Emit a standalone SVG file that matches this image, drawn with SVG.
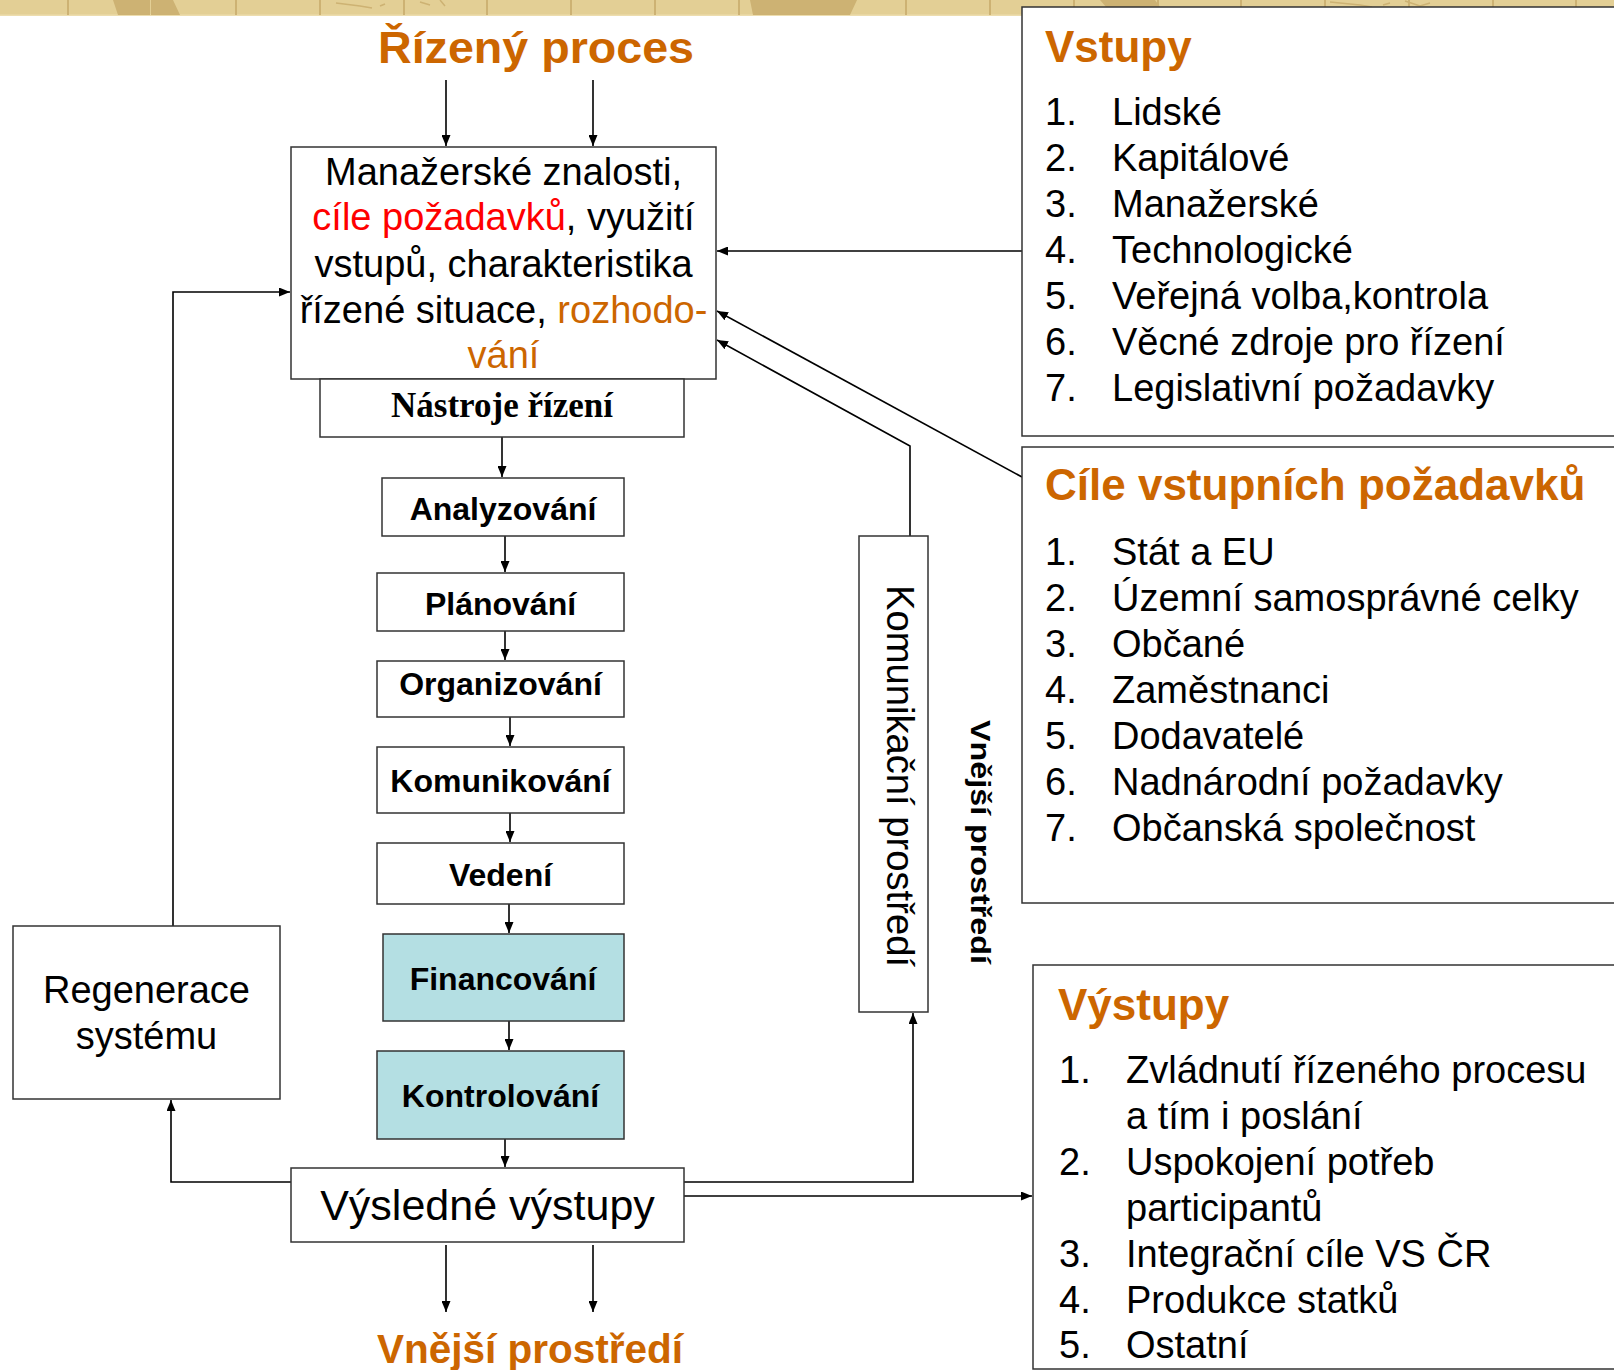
<svg xmlns="http://www.w3.org/2000/svg" width="1614" height="1370" viewBox="0 0 1614 1370">
<style>
.t{font-family:"Liberation Sans",Arial,sans-serif;fill:#000}
.b{font-weight:bold}
.or{fill:#CC6600}
.red{fill:#FF0000}
.box{fill:#fff;stroke:#333;stroke-width:1.5}
.cy{fill:#B4DFE3;stroke:#333;stroke-width:1.5}
.conn{fill:none;stroke:#000;stroke-width:1.6}
.band{fill:#CDB273}
.vl{stroke:#CDB273;stroke-width:2}
.m{font-size:38px}
.chain{font-size:32px;font-weight:bold;text-anchor:middle}
.h{font-size:44px;font-weight:bold;fill:#CC6600}
</style>
<defs>
<marker id="ah" markerUnits="userSpaceOnUse" markerWidth="11" markerHeight="9" refX="11" refY="4.5" orient="auto">
<path d="M0,0 L11,4.5 L0,9 z" fill="#000"/>
</marker>
</defs>
<rect width="1614" height="1370" fill="#fff"/>
<g id="top-band">
<rect x="0" y="0" width="1614" height="16" fill="#E3CF95"/>
<rect x="0" y="14.5" width="1614" height="1.5" fill="#EDDDAE"/>
<polygon class="band" points="113,0 150,0 150,15 118,15"/>
<polygon class="band" points="153,0 173,0 180,15 153,15"/>
<polygon class="band" points="750,0 822,0 822,15 753,15"/>
<polygon class="band" points="824,0 857,0 850,15 824,15"/>
<polygon class="band" points="1100,0 1155,0 1166,15 1113,15"/>
<path d="M336,3 L360,6 L372,8 M380,6 L385,4 M420,2 L430,5 M440,0 L445,6 M1330,2 L1360,5 L1372,7 M1405,1 L1420,6 L1430,3 M1383,5 L1390,3" stroke="#CDB273" stroke-width="1.5" fill="none"/>
<g class="vl">
<line x1="68" y1="0" x2="68" y2="15"/><line x1="152" y1="0" x2="152" y2="15"/><line x1="236" y1="0" x2="236" y2="15"/><line x1="320" y1="0" x2="320" y2="15"/><line x1="404" y1="0" x2="404" y2="15"/><line x1="487" y1="0" x2="487" y2="15"/><line x1="571" y1="0" x2="571" y2="15"/><line x1="655" y1="0" x2="655" y2="15"/><line x1="739" y1="0" x2="739" y2="15"/><line x1="823" y1="0" x2="823" y2="15"/><line x1="906" y1="0" x2="906" y2="15"/><line x1="990" y1="0" x2="990" y2="15"/><line x1="1074" y1="0" x2="1074" y2="15"/><line x1="1158" y1="0" x2="1158" y2="15"/><line x1="1241" y1="0" x2="1241" y2="15"/><line x1="1325" y1="0" x2="1325" y2="15"/><line x1="1409" y1="0" x2="1409" y2="15"/><line x1="1493" y1="0" x2="1493" y2="15"/><line x1="1576" y1="0" x2="1576" y2="15"/>
</g>
</g>

<g id="connectors">
<path class="conn" d="M446,80 V146" marker-end="url(#ah)"/>
<path class="conn" d="M593,80 V146" marker-end="url(#ah)"/>
<path class="conn" d="M1022,251 H717" marker-end="url(#ah)"/>
<path class="conn" d="M1022,477 L717,311" marker-end="url(#ah)"/>
<path class="conn" d="M910,536 V446 L717,340" marker-end="url(#ah)"/>
<path class="conn" d="M173,926 V292 H290" marker-end="url(#ah)"/>
<path class="conn" d="M502,437 V477" marker-end="url(#ah)"/>
<path class="conn" d="M505,536 V572" marker-end="url(#ah)"/>
<path class="conn" d="M505,631 V660" marker-end="url(#ah)"/>
<path class="conn" d="M510,717 V746" marker-end="url(#ah)"/>
<path class="conn" d="M510,813 V842" marker-end="url(#ah)"/>
<path class="conn" d="M509,904 V933" marker-end="url(#ah)"/>
<path class="conn" d="M509,1021 V1050" marker-end="url(#ah)"/>
<path class="conn" d="M505,1139 V1167" marker-end="url(#ah)"/>
<path class="conn" d="M291,1182 H171 V1100" marker-end="url(#ah)"/>
<path class="conn" d="M684,1182 H913 V1013" marker-end="url(#ah)"/>
<path class="conn" d="M684,1196 H1032" marker-end="url(#ah)"/>
<path class="conn" d="M446,1245 V1312" marker-end="url(#ah)"/>
<path class="conn" d="M593,1245 V1312" marker-end="url(#ah)"/>
</g>

<g id="title-rizeny-proces">
<text class="t b or" x="378" y="63" font-size="44" textLength="316" lengthAdjust="spacingAndGlyphs">Řízený proces</text>
</g>

<g id="node-main">
<rect class="box" x="291" y="147" width="425" height="232"/>
<text class="t m" x="503.5" y="185" text-anchor="middle">Manažerské znalosti,</text>
<text class="t m" x="503.5" y="230" text-anchor="middle"><tspan class="red">cíle požadavků</tspan>, využití</text>
<text class="t m" x="503.5" y="277" text-anchor="middle">vstupů, charakteristika</text>
<text class="t m" x="503.5" y="323" text-anchor="middle">řízené situace, <tspan class="or">rozhodo-</tspan></text>
<text class="t m or" x="503.5" y="368" text-anchor="middle">vání</text>
</g>

<g id="node-nastroje">
<rect class="box" x="320" y="379" width="364" height="58"/>
<text x="502" y="417" text-anchor="middle" font-family="'Liberation Serif','Times New Roman',serif" font-weight="bold" font-size="35">Nástroje řízení</text>
</g>

<g id="node-analyzovani">
<rect class="box" x="382" y="478" width="242" height="58"/>
<text class="t chain" x="503" y="520">Analyzování</text>
</g>
<g id="node-planovani">
<rect class="box" x="377" y="573" width="247" height="58"/>
<text class="t chain" x="500.5" y="615">Plánování</text>
</g>
<g id="node-organizovani">
<rect class="box" x="377" y="661" width="247" height="56"/>
<text class="t chain" x="500.5" y="695">Organizování</text>
</g>
<g id="node-komunikovani">
<rect class="box" x="377" y="747" width="247" height="66"/>
<text class="t chain" x="500.5" y="792">Komunikování</text>
</g>
<g id="node-vedeni">
<rect class="box" x="377" y="843" width="247" height="61"/>
<text class="t chain" x="500.5" y="886">Vedení</text>
</g>
<g id="node-financovani">
<rect class="cy" x="383" y="934" width="241" height="87"/>
<text class="t chain" x="503" y="990">Financování</text>
</g>
<g id="node-kontrolovani">
<rect class="cy" x="377" y="1051" width="247" height="88"/>
<text class="t chain" x="500.5" y="1107">Kontrolování</text>
</g>

<g id="node-vysledne">
<rect class="box" x="291" y="1168" width="393" height="74"/>
<text class="t" x="487.5" y="1220" text-anchor="middle" font-size="43">Výsledné výstupy</text>
</g>

<g id="node-regenerace">
<rect class="box" x="13" y="926" width="267" height="173"/>
<text class="t m" x="146.5" y="1003" text-anchor="middle">Regenerace</text>
<text class="t m" x="146.5" y="1049" text-anchor="middle">systému</text>
</g>

<g id="node-komunikacni-prostredi">
<rect class="box" x="859" y="536" width="69" height="476"/>
<text class="t" transform="translate(887,776) rotate(90)" text-anchor="middle" font-size="38" textLength="382" lengthAdjust="spacingAndGlyphs">Komunikační prostředí</text>
</g>

<g id="label-vnejsi-vertical">
<text class="t b" transform="translate(971,842) rotate(90)" text-anchor="middle" font-size="27" textLength="244" lengthAdjust="spacingAndGlyphs">Vnější prostředí</text>
</g>

<g id="title-vnejsi-prostredi">
<text class="t b or" x="377" y="1363" font-size="40.5">Vnější prostředí</text>
</g>

<g id="node-vstupy">
<rect class="box" x="1022" y="7" width="640" height="429"/>
<text class="t h" x="1045" y="62">Vstupy</text>
<g class="t m">
<text x="1045" y="125">1.</text><text x="1112" y="125">Lidské</text>
<text x="1045" y="171">2.</text><text x="1112" y="171">Kapitálové</text>
<text x="1045" y="217">3.</text><text x="1112" y="217">Manažerské</text>
<text x="1045" y="263">4.</text><text x="1112" y="263">Technologické</text>
<text x="1045" y="309">5.</text><text x="1112" y="309">Veřejná volba,kontrola</text>
<text x="1045" y="355">6.</text><text x="1112" y="355">Věcné zdroje pro řízení</text>
<text x="1045" y="401">7.</text><text x="1112" y="401">Legislativní požadavky</text>
</g>
</g>

<g id="node-cile">
<rect class="box" x="1022" y="447" width="640" height="456"/>
<text class="t h" x="1045" y="500">Cíle vstupních požadavků</text>
<g class="t m">
<text x="1045" y="565">1.</text><text x="1112" y="565">Stát a EU</text>
<text x="1045" y="611">2.</text><text x="1112" y="611">Územní samosprávné celky</text>
<text x="1045" y="657">3.</text><text x="1112" y="657">Občané</text>
<text x="1045" y="703">4.</text><text x="1112" y="703">Zaměstnanci</text>
<text x="1045" y="749">5.</text><text x="1112" y="749">Dodavatelé</text>
<text x="1045" y="795">6.</text><text x="1112" y="795">Nadnárodní požadavky</text>
<text x="1045" y="841">7.</text><text x="1112" y="841">Občanská společnost</text>
</g>
</g>

<g id="node-vystupy">
<rect class="box" x="1033" y="965" width="640" height="404"/>
<text class="t h" x="1058" y="1020">Výstupy</text>
<g class="t m">
<text x="1059" y="1083">1.</text><text x="1126" y="1083">Zvládnutí řízeného procesu</text>
<text x="1126" y="1129">a tím i poslání</text>
<text x="1059" y="1175">2.</text><text x="1126" y="1175">Uspokojení potřeb</text>
<text x="1126" y="1221">participantů</text>
<text x="1059" y="1267">3.</text><text x="1126" y="1267">Integrační cíle VS ČR</text>
<text x="1059" y="1313">4.</text><text x="1126" y="1313">Produkce statků</text>
<text x="1059" y="1358">5.</text><text x="1126" y="1358">Ostatní</text>
</g>
</g>
</svg>
